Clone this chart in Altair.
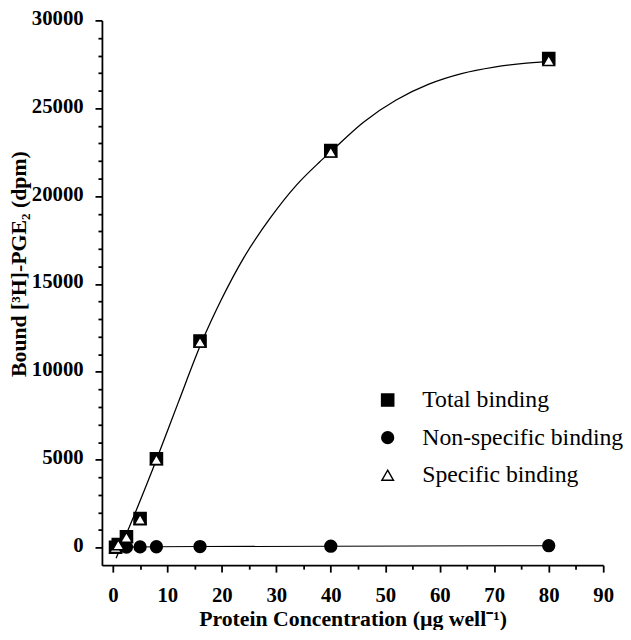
import altair as alt
import pandas as pd

# ---- data ----
conc = [0.5, 1, 2.5, 5, 8, 16, 40, 80]
total = [20, 180, 620, 1650, 5060, 11760, 22590, 27830]
nonspecific = [10, 20, 30, 40, 50, 60, 80, 110]
specific = [10, 160, 590, 1610, 5010, 11700, 22510, 27720]

# fitted curve for the specific binding
fit_x = [0.6, 4, 8, 12, 16.3, 19.9, 24.1, 28.9, 33.7, 37.9, 40, 46, 52, 58, 64, 70, 75, 80]
fit_y = [-600, 1900, 5000, 8250, 11680, 14100, 16530, 18760, 20630, 21930,
         22530, 24210, 25470, 26370, 26970, 27340, 27540, 27670]

series_names = ["Total binding", "Non-specific binding", "Specific binding"]
series_shapes = ["square", "circle", "triangle-up"]
series_fills = ["black", "black", "white"]
series_sizes = [150, 135, 130]

x_major = [0, 10, 20, 30, 40, 50, 60, 70, 80, 90]
x_minor = [5, 15, 25, 35, 45, 55, 65, 75, 85]
y_major = [0, 5000, 10000, 15000, 20000, 25000, 30000]
y_minor = [v for v in range(1000, 30000, 1000) if v % 5000 != 0]

x_title = "Protein Concentration (µg well⁻¹)"
y_title = "Bound  [³H]-PGE₂ (dpm)"

# ---- tables ----
rows = []
for k, (name, vals) in enumerate(zip(series_names, [total, nonspecific, specific])):
    for c, v in zip(conc, vals):
        rows.append({"conc": c, "bound": v, "series": name, "ord": k})
points_df = pd.DataFrame(rows)
nonspec_df = pd.DataFrame({"conc": conc, "bound": nonspecific})
fit_df = pd.DataFrame({"conc": fit_x, "bound": fit_y})

FONT = "Liberation Serif"
xs = alt.Scale(domain=[-2, 90], nice=False, zero=False)
ys = alt.Scale(domain=[-1000, 30000], nice=False, zero=False)

nonspec_line = alt.Chart(nonspec_df).mark_line(color="black", strokeWidth=1.1).encode(
    x=alt.X("conc:Q", scale=xs, axis=None),
    y=alt.Y("bound:Q", scale=ys, axis=None),
)

fit_line = alt.Chart(fit_df).mark_line(color="black", strokeWidth=1.3, interpolate="monotone").encode(
    x=alt.X("conc:Q", scale=xs, axis=None),
    y=alt.Y("bound:Q", scale=ys, axis=None),
)

legend = alt.Legend(
    title=None, orient="none", legendX=277, legendY=372,
    labelFont=FONT, labelFontSize=24, labelFontWeight="normal", labelColor="black",
    labelOffset=23, rowPadding=14, padding=0, labelLimit=0,
    symbolStrokeColor="black", symbolStrokeWidth=1.5,
)

points = alt.Chart(points_df).mark_point(
    stroke="black", strokeWidth=1.5, opacity=1, fillOpacity=1
).encode(
    x=alt.X("conc:Q", scale=xs, title=x_title,
            axis=alt.Axis(values=x_major, orient="bottom", tickSize=7, labelPadding=13,
                          format="d", titleY=54, titleBaseline="middle")),
    y=alt.Y("bound:Q", scale=ys, title=y_title,
            axis=alt.Axis(values=y_major, orient="left", tickSize=7, labelPadding=12,
                          format="d", labelOffset=-2, titleX=-84, titleY=246,
                          titleBaseline="middle", titleAngle=270)),
    shape=alt.Shape("series:N", scale=alt.Scale(domain=series_names, range=series_shapes), legend=legend),
    fill=alt.Fill("series:N", scale=alt.Scale(domain=series_names, range=series_fills), legend=legend),
    stroke=alt.Stroke("series:N", scale=alt.Scale(domain=series_names, range=["black", "black", "black"]), legend=legend),
    size=alt.Size("series:N", scale=alt.Scale(domain=series_names, range=series_sizes), legend=legend),
    order=alt.Order("ord:Q"),
)

minor = alt.Chart(points_df).mark_point(opacity=0).encode(
    x=alt.X("conc:Q", scale=xs, title=None,
            axis=alt.Axis(values=x_minor, orient="bottom", tickSize=4, labels=False, domain=False)),
    y=alt.Y("bound:Q", scale=ys, title=None,
            axis=alt.Axis(values=y_minor, orient="left", tickSize=4, labels=False, domain=False)),
)

chart = alt.layer(nonspec_line, fit_line, points, minor).resolve_axis(
    x="independent", y="independent"
).properties(
    width=507, height=551,
    autosize=alt.AutoSizeParams(type="none"),
    padding={"left": 95, "top": 9, "right": 20, "bottom": 62},
).configure_view(
    stroke=None
).configure_axis(
    grid=False,
    domainColor="black", domainWidth=1.8,
    tickColor="black", tickWidth=1.8,
    labelColor="black", labelFont=FONT, labelFontSize=21, labelFontWeight="bold",
    titleColor="black", titleFont=FONT, titleFontSize=22, titleFontWeight="bold",
    labelFlush=False,
)

chart.save("out.html", embed_options={"renderer": "svg", "actions": False})
